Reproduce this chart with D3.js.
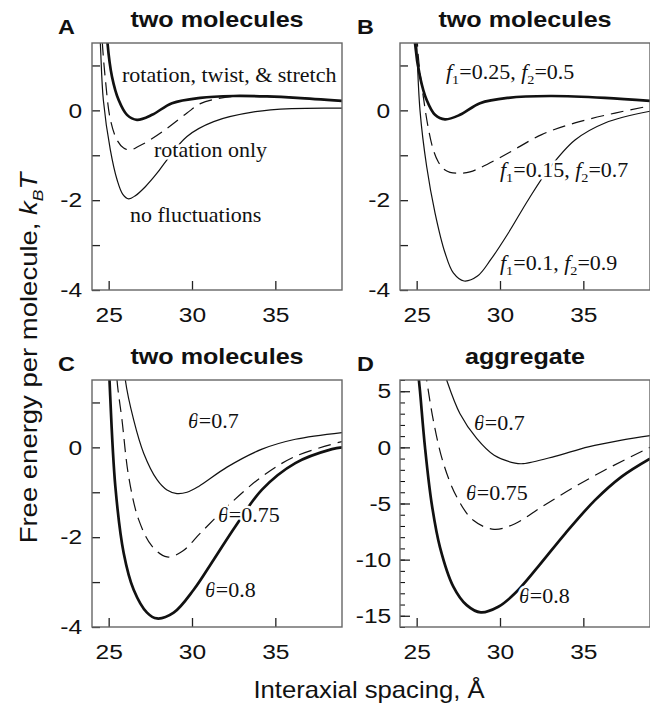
<!DOCTYPE html>
<html>
<head>
<meta charset="utf-8">
<script src="https://cdn.jsdelivr.net/npm/d3@7"></script>
<style>
  body { margin: 0; background: #fff; }
</style>
</head>
<body>
<div id="chart"></div>
<script>
// curves: [interaxial spacing (Å), free energy (kBT)]
var aStretch = [[24.8, 2.6], [24.93, 1.5], [25.2, 0.75], [25.6, 0.23], [26.1, -0.1], [26.7, -0.21],
  [27.6, -0.1], [28.8, 0.16], [30.5, 0.28], [32.5, 0.32], [34.5, 0.31], [36.3, 0.28], [39, 0.21]];
var aRotation = [[24.5, 2.4], [24.62, 1.5], [24.8, 0.7], [25.1, -0.2], [25.5, -0.66], [25.9, -0.84],
  [26.3, -0.88], [26.8, -0.8], [27.3, -0.7], [28.5, -0.4], [29.7, -0.06], [30.5, 0.15], [31.5, 0.26],
  [32.5, 0.31], [34.5, 0.31], [36.3, 0.28], [39, 0.21]];
var aNone = [[24.38, 2.4], [24.5, 1.5], [24.68, 0.23], [25.1, -0.88], [25.5, -1.54], [25.85, -1.87],
  [26.2, -1.97], [26.6, -1.9], [27.2, -1.7], [27.9, -1.4], [28.5, -1.1], [29.7, -0.58], [31.3, -0.25],
  [33.8, -0.03], [36, 0.04], [39, 0.05]];

var bLow = [[24.8, 2.6], [24.9, 1.5], [25.2, 0.75], [25.6, 0.23], [26.1, -0.1], [26.7, -0.2],
  [27.6, -0.1], [28.8, 0.16], [30.5, 0.28], [33, 0.32], [36.3, 0.28], [39, 0.21]];
var bMid = [[24.9, 2.6], [25.1, 1.2], [25.4, 0.3], [25.7, -0.4], [26.0, -0.88], [26.3, -1.15],
  [26.6, -1.3], [27.0, -1.38], [27.6, -1.4], [28.2, -1.37], [28.8, -1.28], [30.5, -0.95],
  [32.5, -0.54], [34.5, -0.28], [36.9, -0.06], [39, 0.1]];
var bHigh = [[24.9, 2.6], [25.0, 1.5], [25.2, 0.0], [25.6, -1.25], [26.1, -2.28], [26.7, -3.17],
  [27.2, -3.62], [27.84, -3.8], [28.65, -3.69], [29.45, -3.32], [30.5, -2.73], [31.7, -1.99],
  [32.9, -1.32], [34.5, -0.66], [36.3, -0.28], [39, -0.02]];

var c07 = [[25.85, 2.3], [26.0, 1.5], [26.5, 0.61], [27.1, -0.13], [27.9, -0.72], [28.5, -0.95],
  [29.1, -1.03], [29.7, -1.0], [30.4, -0.87], [32.1, -0.44], [34.2, -0.04], [36.2, 0.18], [39, 0.33]];
var c075 = [[25.4, 2.4], [25.5, 1.5], [25.8, 0.61], [26.2, -0.65], [26.8, -1.61], [27.6, -2.2],
  [28.5, -2.44], [29.4, -2.32], [30.5, -1.91], [32.1, -1.32], [34.2, -0.65], [36.2, -0.2], [39, 0.13]];
var c08 = [[24.95, 2.5], [25.05, 1.5], [25.4, -0.87], [25.9, -2.35], [26.5, -3.17], [27.3, -3.68],
  [27.9, -3.81], [28.9, -3.68], [30.1, -3.17], [31.3, -2.5], [32.6, -1.76], [34.2, -0.94],
  [36.2, -0.35], [38.4, -0.04], [39, 0.0]];

var d07 = [[26.6, 7], [26.8, 6], [27.6, 3.0], [28.6, 0.8], [29.65, -0.7], [30.9, -1.4], [31.4, -1.45],
  [33.3, -0.8], [35.3, 0.05], [37.3, 0.65], [39, 1.05]];
var d075 = [[25.5, 7], [25.6, 6], [26.0, 2.4], [26.6, -1.4], [27.4, -4.4], [28.4, -6.5], [29.65, -7.3],
  [30.9, -6.8], [32.5, -5.3], [34.5, -3.5], [36.7, -1.7], [39, 0]];
var d08 = [[25.1, 6.5], [25.2, 5], [25.5, 0], [25.9, -5], [26.4, -8.9], [27.2, -12.4], [28.0, -14.05],
  [28.85, -14.7], [29.9, -14.2], [30.9, -13.0], [32.3, -10.6], [33.9, -7.7], [35.7, -4.7],
  [37.3, -2.6], [39, -1.0]];

var xDomain = [24, 39];
var xTicks = [25, 30, 35];
var smallYTicks = d3.range(-4, 2);      // -4 .. 1
var bigYTicks = [-15, -10, -5, 0, 5];
var bigYMinor = d3.range(-16, 7);

var W = 250, H = 247;
var sx = 1.17;  // the source figure is stretched sideways a little

var svg = d3.select('#chart').append('svg')
    .attr('width', 650)
    .attr('height', 704)
    .style('font-family', '"Liberation Sans", Arial, sans-serif');

var panels = [
  {
    letter: 'A', x: 92, y: 43, title: 'two molecules', yDomain: [-4, 1.5],
    series: [{data: aNone, w: 1.2}, {data: aRotation, w: 1.2, dash: '13,7'}, {data: aStretch, w: 2.7}],
    labels: [
      {x: 30, y: 39, parts: [['rotation, twist, & stretch']]},
      {x: 62, y: 114, parts: [['rotation only']]},
      {x: 38, y: 179, parts: [['no fluctuations']]}
    ]
  },
  {
    letter: 'B', x: 400, y: 43, title: 'two molecules', yDomain: [-4, 1.5],
    series: [{data: bHigh, w: 1.2}, {data: bMid, w: 1.2, dash: '13,7'}, {data: bLow, w: 2.7}],
    labels: [
      {x: 46, y: 36, parts: [['f', 'i'], ['1', 'sub'], ['=0.25, '], ['f', 'i'], ['2', 'sub'], ['=0.5']]},
      {x: 100, y: 134, parts: [['f', 'i'], ['1', 'sub'], ['=0.15, '], ['f', 'i'], ['2', 'sub'], ['=0.7']]},
      {x: 100, y: 227, parts: [['f', 'i'], ['1', 'sub'], ['=0.1, '], ['f', 'i'], ['2', 'sub'], ['=0.9']]}
    ]
  },
  {
    letter: 'C', x: 92, y: 380, title: 'two molecules', yDomain: [-4, 1.5],
    series: [{data: c07, w: 1.2}, {data: c075, w: 1.2, dash: '13,7'}, {data: c08, w: 2.7}],
    labels: [
      {x: 96, y: 48, parts: [['θ', 'i'], ['=0.7']]},
      {x: 126, y: 142, parts: [['θ', 'i'], ['=0.75']]},
      {x: 113, y: 217, parts: [['θ', 'i'], ['=0.8']]}
    ]
  },
  {
    letter: 'D', x: 400, y: 380, title: 'aggregate', yDomain: [-16, 6], big: true,
    series: [{data: d07, w: 1.2}, {data: d075, w: 1.2, dash: '13,7'}, {data: d08, w: 2.7}],
    labels: [
      {x: 74, y: 50, parts: [['θ', 'i'], ['=0.7']]},
      {x: 66, y: 120, parts: [['θ', 'i'], ['=0.75']]},
      {x: 119, y: 223, parts: [['θ', 'i'], ['=0.8']]}
    ]
  }
];

panels.forEach(function(p, i) {
  var g = svg.append('g').attr('transform', 'translate(' + p.x + ',' + p.y + ')');
  var x = d3.scaleLinear().domain(xDomain).range([0, W]);
  var y = d3.scaleLinear().domain(p.yDomain).range([H, 0]);

  g.append('clipPath').attr('id', 'clip' + i)
    .append('rect').attr('width', W).attr('height', H);

  var line = d3.line()
      .x(function(d) { return x(d[0]); })
      .y(function(d) { return y(d[1]); })
      .curve(d3.curveCatmullRom.alpha(0.5));

  g.append('g').attr('clip-path', 'url(#clip' + i + ')')
    .selectAll('path').data(p.series).enter().append('path')
      .attr('d', function(s) { return line(s.data); })
      .attr('fill', 'none')
      .attr('stroke', '#111')
      .attr('stroke-width', function(s) { return s.w; })
      .attr('stroke-dasharray', function(s) { return s.dash || null; });

  // curve labels, white halo like the original
  p.labels.forEach(function(l) {
    var t = g.append('text')
        .attr('transform', 'translate(' + l.x + ',' + l.y + ') scale(1.1,1)')
        .attr('font-family', '"Liberation Serif", "Times New Roman", serif')
        .attr('font-size', 20)
        .attr('fill', '#111')
        .attr('stroke', '#fff')
        .attr('stroke-width', 5)
        .attr('paint-order', 'stroke');
    l.parts.forEach(function(pt) {
      var ts = t.append('tspan').text(pt[0]);
      if (pt[1] === 'i') ts.attr('font-style', 'italic');
      if (pt[1] === 'sub') ts.attr('font-size', 13).attr('dy', 5);
      else if (ts.node().previousSibling && ts.node().previousSibling.getAttribute('dy') === '5') ts.attr('dy', -5);
    });
  });

  // axes, ticks point inward
  var xa = g.append('g').attr('transform', 'translate(0,' + H + ')')
    .call(d3.axisBottom(x).tickValues(xTicks).tickSize(-9).tickPadding(17));

  var ya;
  if (p.big) {
    g.append('g').call(d3.axisLeft(y).tickValues(bigYMinor).tickSize(-5).tickFormat(''))
      .call(function(a) { a.select('.domain').remove(); });
    ya = g.append('g').call(d3.axisLeft(y).tickValues(bigYTicks).tickSize(-10).tickPadding(7.5)
      .tickFormat(function(d) { return String(d); }));
  } else {
    ya = g.append('g').call(d3.axisLeft(y).tickValues(smallYTicks).tickSize(-8).tickPadding(8.5)
      .tickFormat(function(d) { return d % 2 === 0 ? String(d) : ''; }));
  }

  [xa, ya].forEach(function(a) {
    a.select('.domain').remove();
    a.selectAll('line').attr('stroke', '#222').attr('stroke-width', 1.3);
    a.selectAll('text')
      .attr('font-family', '"Liberation Sans", Arial, sans-serif')
      .attr('font-size', 21)
      .attr('fill', '#111')
      .attr('transform', 'scale(' + sx + ',1)');
  });

  g.append('rect')
    .attr('width', W).attr('height', H)
    .attr('fill', 'none')
    .attr('stroke', '#666')
    .attr('stroke-width', 1.4);

  g.append('text')
    .attr('transform', 'translate(' + (W / 2) + ',-16) scale(' + sx + ',1)')
    .attr('text-anchor', 'middle')
    .attr('font-weight', 'bold')
    .attr('font-size', 21.5)
    .attr('fill', '#111')
    .text(p.title);

  g.append('text')
    .attr('transform', 'translate(' + (p.x === 92 ? -34 : -43) + ',-9) scale(' + sx + ',1)')
    .attr('font-weight', 'bold')
    .attr('font-size', 20)
    .attr('fill', '#111')
    .text(p.letter);
});

// shared axis titles
var yl = svg.append('text')
    .attr('transform', 'translate(37,358) rotate(-90) scale(' + sx + ',1)')
    .attr('text-anchor', 'middle')
    .attr('font-size', 23.5)
    .attr('fill', '#111');
yl.append('tspan').text('Free energy per molecule, ');
yl.append('tspan').attr('font-style', 'italic').text('k');
yl.append('tspan').attr('font-style', 'italic').attr('font-size', 15).attr('dy', 6).text('B');
yl.append('tspan').attr('font-style', 'italic').attr('dy', -6).text('T');

svg.append('text')
    .attr('transform', 'translate(369,698) scale(1.07,1)')
    .attr('text-anchor', 'middle')
    .attr('font-size', 24)
    .attr('fill', '#111')
    .text('Interaxial spacing, Å');
</script>
</body>
</html>
